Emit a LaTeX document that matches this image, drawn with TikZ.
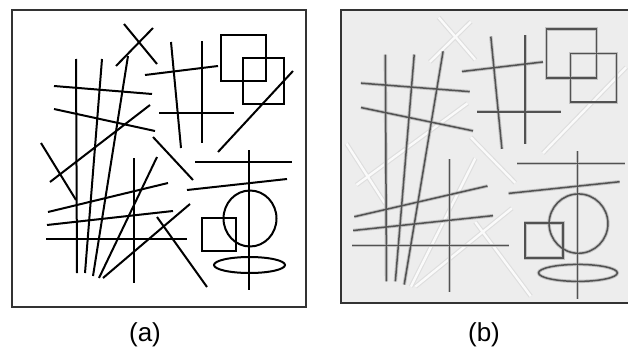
\documentclass[tikz,border=0pt]{standalone}
\usepackage{fontspec}
\setmainfont{Liberation Sans}
\newcommand{\flatlines}[1]{
    \draw[#1] (128,56) -- (93,276);
    \draw[#1] (76,59) -- (77,273);
    \draw[#1] (102,59) -- (85,273);
    \draw[#1] (54,86) -- (152,94);
    \draw[#1] (54,109) -- (155,131);
    \draw[#1] (145,75) -- (218,66);
    \draw[#1] (171,42) -- (181,148);
    \draw[#1] (202,41) -- (202,143);
    \draw[#1] (159,113) -- (234,113);
    \draw[#1] (195,162) -- (292,162);
    \draw[#1] (187,190) -- (287,179);
    \draw[#1] (249,150) -- (249,290);
    \draw[#1] (48,212) -- (168,183);
    \draw[#1] (47,225) -- (173,211);
    \draw[#1] (46,239) -- (187,239);
    \draw[#1] (134,158) -- (134,283);
    \draw[#1] (221,35) rectangle (266,81);
    \draw[#1] (243,58) rectangle (284,104);
    \draw[#1] (202,218) rectangle (236,251);
    \draw[#1] (250,218.5) ellipse [x radius=26.5, y radius=28];
    \draw[#1] (249.5,265) ellipse [x radius=35.5, y radius=8];
}
\newcommand{\slantlines}[1]{
    \draw[#1] (124,24) -- (157,64);
    \draw[#1] (153,28) -- (116,66);
    \draw[#1] (150,105) -- (50,182);
    \draw[#1] (41,143) -- (76,200);
    \draw[#1] (293,71) -- (218,152);
    \draw[#1] (153,137) -- (193,180);
    \draw[#1] (157,157) -- (99,278);
    \draw[#1] (103,278) -- (190,204);
    \draw[#1] (157,217) -- (207,287);
}

\begin{document}
\begin{tikzpicture}[x=1pt,y=-1pt]
    \tikzstyle{inkline}=[line width=2pt,black]
    \tikzstyle{halo}=[line width=3.4pt,black!24]
    \tikzstyle{greyline}=[line width=1.5pt,black!68]
    \tikzstyle{ghostedge}=[line width=4.6pt,black!13]
    \tikzstyle{ghostcore}=[line width=2.4pt,black!2]
    \tikzstyle{panelframe}=[line width=2pt,black!80]
    \tikzstyle{caption}=[inner sep=0pt,font=\fontsize{26}{30}\selectfont]
    \useasboundingbox (0,0) rectangle (628,348);
    \clip (0,0) rectangle (628,348);
    \fill[white] (0,0) rectangle (628,348);
    \draw[panelframe] (12,10) rectangle (306,307);
    \flatlines{inkline}
    \slantlines{inkline}
    \fill[black!7] (341,10) rectangle (640,303);
    \begin{scope}
        \clip (341,10) rectangle (640,303);
        \begin{scope}[shift={(301,-8)},xscale=1.11,yscale=1.06]
            \slantlines{ghostedge}
            \slantlines{ghostcore}
            \flatlines{halo}
            \flatlines{greyline}
        \end{scope}
    \end{scope}
    \draw[panelframe,line width=2.5pt] (341,10) rectangle (640,303);
    \node[caption] (lbla) at (145,335) {(a)};
    \node[caption] (lblb) at (484,335) {(b)};
\end{tikzpicture}
\end{document}
